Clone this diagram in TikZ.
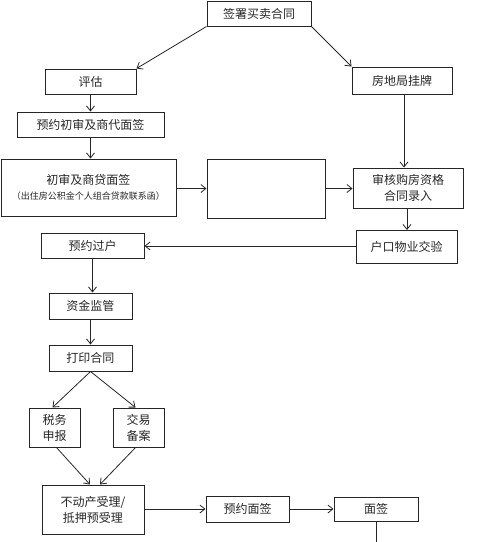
\documentclass[tikz,border=0pt]{standalone}
\usepackage{fontspec}
\newfontfamily\cjk{Noto Sans CJK SC}
\usetikzlibrary{arrows.meta,calc}
\begin{document}
\begin{tikzpicture}[x=1pt,y=-1pt,
  box/.style={draw=black!85,line width=1pt,rectangle,inner sep=0pt,align=center,
    font=\cjk\fontsize{12}{16}\selectfont,text=black!85},
  arr/.style={draw=black!85,line width=0.8pt,-{Straight Barb[length=5pt,width=8pt]}},
  ln/.style={draw=black!85,line width=0.8pt}]
\useasboundingbox (0,0) rectangle (500,542);
\node[box,minimum width=104pt,minimum height=25pt] (s1) at (259,13.5) {签署买卖合同};
\node[box,minimum width=91pt,minimum height=25pt] (pg) at (90.5,81.5) {评估};
\node[box,minimum width=100pt,minimum height=27pt] (fd) at (402,80.5) {房地局挂牌};
\node[box,minimum width=147pt,minimum height=25pt] (yy) at (90.5,124.5) {预约初审及商代面签};
\node[box,minimum width=175pt,minimum height=57pt] (cs) at (88.5,187.5) {初审及商贷面签\\[-1pt]{\fontsize{9}{11}\selectfont （出住房公积金个人组合贷款联系函）}};
\node[box,minimum width=118pt,minimum height=59pt] (em) at (266,188.5) {};
\node[box,minimum width=110pt,minimum height=40pt] (sh) at (408,188) {审核购房资格\\合同录入};
\node[box,minimum width=101pt,minimum height=33pt] (hk) at (406.5,247) {户口物业交验};
\node[box,minimum width=103pt,minimum height=25pt] (gh) at (92.5,246) {预约过户};
\node[box,minimum width=83pt,minimum height=26pt] (zj) at (90.5,306) {资金监管};
\node[box,minimum width=83pt,minimum height=26pt] (dy) at (90.5,358) {打印合同};
\node[box,minimum width=51pt,minimum height=39pt] (sw) at (54.5,427.5) {税务\\申报};
\node[box,minimum width=51pt,minimum height=39pt] (jy) at (138.5,427.5) {交易\\备案};
\node[box,minimum width=102pt,minimum height=49pt] (bd) at (93,509.5) {不动产受理/\\抵押预受理};
\node[box,minimum width=83pt,minimum height=26pt] (ym) at (247.5,509) {预约面签};
\node[box,minimum width=84pt,minimum height=24pt] (mq) at (376,509) {面签};
\coordinate (end) at (376,542);
\coordinate (fdS) at ($(fd.south)+(2,0)$);
\coordinate (shS) at ($(sh.south)+(-1,0)$);
\coordinate (swN) at ($(sw.north)+(-2,0)$);
\coordinate (jyN) at ($(jy.north)+(-3,0)$);
\coordinate (swS) at ($(sw.south)+(2,0)$);
\coordinate (jyS) at ($(jy.south)+(-3,0)$);
\coordinate (bdL) at ($(bd.north)+(-3,0)$);
\coordinate (bdR) at ($(bd.north)+(7,0)$);

\draw[arr] (s1.south west) -- (pg.north east);
\draw[arr] (s1.south east) -- (fd.north west);
\draw[arr] (pg.south) -- (yy.north);
\draw[arr] (yy.south) -- (yy.south |- cs.north);
\draw[arr] (cs.east |- em.west) -- (em.west);
\draw[arr] (em.east) -- (sh.west |- em.east);
\draw[arr] (fdS) -- (fdS |- sh.north);
\draw[arr] (shS) -- (shS |- hk.north);
\draw[arr] (hk.west |- gh.east) -- (gh.east);
\draw[arr] (gh.south) -- (gh.south |- zj.north);
\draw[arr] (zj.south) -- (dy.north);
\draw[arr] (dy.south) -- (swN);
\draw[arr] (dy.south) -- (jyN);
\draw[arr] (swS) -- (bdL);
\draw[arr] (jyS) -- (bdR);
\draw[arr] (bd.east |- ym.west) -- (ym.west);
\draw[arr] (ym.east) -- (mq.west |- ym.east);
\draw[ln] (mq.south) -- (end);
\end{tikzpicture}
\end{document}
